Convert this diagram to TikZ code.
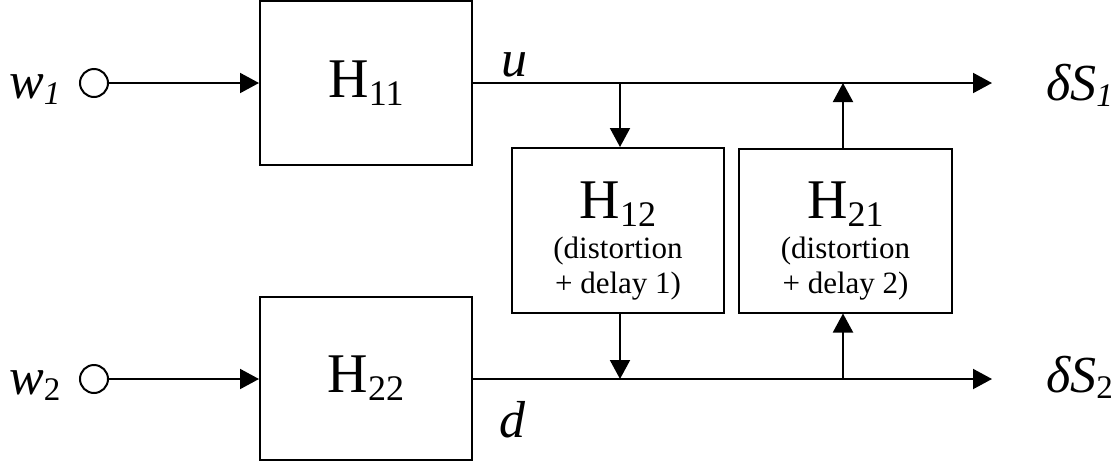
\documentclass[tikz,border=0pt]{standalone}
\usepackage{fontspec}
\setmainfont{Liberation Serif}
\usetikzlibrary{arrows.meta}
\newcommand{\bigH}[1]{{\fontsize{56}{56}\selectfont H\raisebox{-8pt}{\fontsize{36}{36}\selectfont #1}}}
\newcommand{\smalltxt}{\fontsize{31}{35}\selectfont}
\newcommand{\lbl}{\fontsize{52}{52}\selectfont\itshape}
\newcommand{\lsub}{\fontsize{33}{33}\selectfont}
\begin{document}
\begin{tikzpicture}[x=1pt,y=-1pt,
  blk/.style={draw,line width=2pt,minimum width=212pt,inner sep=0pt,align=center},
  wire/.style={line width=2pt},
  arr/.style={wire,-{Triangle[length=19pt,width=20pt]}},
  src/.style={draw,circle,line width=2pt,minimum size=28pt,inner sep=0pt},
  txt/.style={inner sep=0pt}]
\useasboundingbox (0,0) rectangle (1120,464);
% blocks
\node[blk,minimum height=164pt] (H11) at (366,83) {\bigH{11}};
\node[blk,minimum height=163pt] (H22) at (366,378.5) {\bigH{22}};
\node[blk,minimum height=165pt] (H12) at (618,230.5) {};
\node[blk,minimum width=213pt,minimum height=164pt] (H21) at (845.5,230.5) {};
\node[txt,anchor=base] (H12t) at (618,218) {\bigH{12}};
\node[txt,anchor=base] (H12a) at (618,258) {\smalltxt(distortion};
\node[txt,anchor=base] (H12b) at (618,293) {\smalltxt+ delay 1)};
\node[txt,anchor=base] (H21t) at (845.5,218) {\bigH{21}};
\node[txt,anchor=base] (H21a) at (845.5,258) {\smalltxt(distortion};
\node[txt,anchor=base] (H21b) at (845.5,293) {\smalltxt+ delay 2)};
% sources
\node[src] (w1c) at (94,83) {};
\node[src] (w2c) at (94,379) {};
\node[txt,anchor=base west] (w1) at (9,98) {\lbl w\raisebox{-6pt}{\lsub 1}};
\node[txt,anchor=base west] (w2) at (9,394) {\lbl w\raisebox{-6pt}{\lsub\upshape 2}};
% outputs
\coordinate (s1) at (992,83);
\coordinate (s2) at (992,379);
\node[txt,anchor=base west] (dS1) at (1046,100) {\lbl δS\raisebox{-6pt}{\lsub 1}};
\node[txt,anchor=base west] (dS2) at (1046,392) {\lbl δS\raisebox{-6pt}{\lsub\upshape 2}};
\node[txt,anchor=base west] (u) at (501,76) {\lbl u};
\node[txt,anchor=base west] (d) at (499,437) {\lbl d};
% junctions
\coordinate (j1) at (620,83);
\coordinate (j2) at (843,83);
\coordinate (j3) at (620,379);
\coordinate (j4) at (843,379);
% connectors
\draw[arr] (w1c) -- (H11);
\draw[arr] (w2c) -- (H22.west |- w2c);
\draw[arr] (H11.east) -- (s1);
\draw[arr] (H22.east |- s2) -- (s2);
\draw[arr] (j1) -- (j1 |- H12.north);
\draw[arr] (j1 |- H12.south) -- (j3);
\draw[arr] (j4) -- (j4 |- H21.south);
\draw[arr] (j2 |- H21.north) -- (j2);
\end{tikzpicture}
\end{document}
